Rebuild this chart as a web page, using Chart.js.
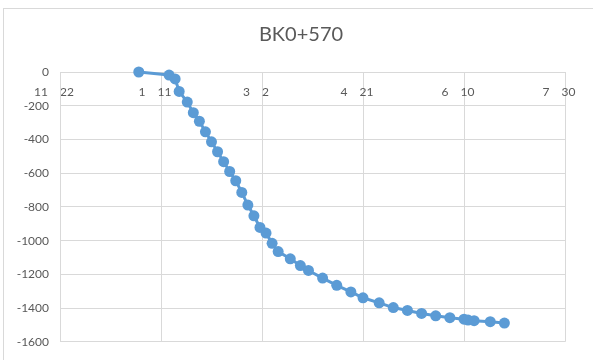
<!DOCTYPE html>
<html>
<head>
<meta charset="utf-8">
<script src="https://cdn.jsdelivr.net/npm/chart.js@4.4.0/dist/chart.umd.min.js"></script>
<style>
  body { margin: 0; background: #fff; overflow: hidden; }
  #frame { position: absolute; left: 3px; top: 8px; width: 640px; height: 400px; border: 1px solid #d9d9d9; }
  #chart { position: absolute; left: 0; top: 0; }
</style>
</head>
<body>
<div id="frame"></div>
<canvas id="chart" width="593" height="360"></canvas>
<script>
const chartTitle = "BK0+570";
const axisStart = "2018-11-22";
const axisDays = 250, axisStep = 50;

const dates = [
  "2018-12-31", "2019-01-15", "2019-01-18", "2019-01-20", "2019-01-24", "2019-01-27",
  "2019-01-30", "2019-02-02", "2019-02-05", "2019-02-08", "2019-02-11", "2019-02-14",
  "2019-02-17", "2019-02-20", "2019-02-23", "2019-02-26", "2019-03-01", "2019-03-04",
  "2019-03-07", "2019-03-10", "2019-03-16", "2019-03-21", "2019-03-25", "2019-04-01",
  "2019-04-08", "2019-04-15", "2019-04-21", "2019-04-29", "2019-05-06", "2019-05-13",
  "2019-05-20", "2019-05-27", "2019-06-03", "2019-06-10", "2019-06-12", "2019-06-15",
  "2019-06-23", "2019-06-30"
];
const settlement = [
  0, -18, -41, -115, -178, -241,
  -292, -355, -414, -473, -532, -590,
  -645, -714, -789, -853, -922, -955,
  -1016, -1065, -1108, -1148, -1177, -1222,
  -1265, -1304, -1339, -1369, -1397, -1414,
  -1432, -1446, -1457, -1466, -1471, -1475,
  -1481, -1489
];
const yTicks = { min: -1600, max: 0, step: 200 };

const DAY = 864e5;
const t0 = Date.parse(axisStart);
const points = dates.map((d, i) => ({ x: (Date.parse(d) - t0) / DAY, y: settlement[i] }));

function dateLabel(offset) {
  const d = new Date(t0 + offset * DAY);
  // month / day with the blank gaps where the unit glyphs did not render
  return (d.getUTCMonth() + 1) + "\u3000" + d.getUTCDate() + "\u3000";
}

const font = "Lato, 'Open Sans', sans-serif";
const grey = "#d9d9d9";
const blue = "#5b9bd5";

// title is centred on the outer frame, not on the canvas, so draw it here
const titlePlugin = {
  id: "frameTitle",
  afterDraw(chart) {
    const ctx = chart.ctx;
    ctx.save();
    ctx.font = "20px " + font;
    ctx.fillStyle = "#595959";
    ctx.textAlign = "center";
    ctx.textBaseline = "middle";
    ctx.fillText(chartTitle, 301, 35);
    ctx.restore();
  }
};

new Chart(document.getElementById("chart"), {
  type: "line",
  data: {
    datasets: [{
      data: points,
      borderColor: blue,
      backgroundColor: blue,
      borderWidth: 3,
      pointRadius: 5.5,
      pointBorderWidth: 0,
      tension: 0,
      fill: false,
      clip: false
    }]
  },
  plugins: [titlePlugin],
  options: {
    responsive: false,
    animation: false,
    layout: { padding: { left: 0, right: 28, top: 72, bottom: 16 } },
    plugins: {
      legend: { display: false },
      tooltip: { enabled: false },
      title: { display: false }
    },
    scales: {
      x: {
        type: "linear",
        position: { y: 0 },
        min: 0,
        max: axisDays,
        grid: { color: grey, drawTicks: false },
        border: { color: grey },
        ticks: {
          stepSize: axisStep,
          autoSkip: false,
          maxRotation: 0,
          padding: 13,
          color: "#595959",
          font: { family: font, size: 12 },
          callback: v => dateLabel(v)
        },
        afterFit: s => { s.paddingLeft = 0; s.paddingRight = 0; }
      },
      y: {
        min: yTicks.min,
        max: yTicks.max,
        grid: { color: grey, drawTicks: false },
        border: { color: grey },
        ticks: {
          stepSize: yTicks.step,
          padding: 11,
          color: "#595959",
          font: { family: font, size: 12 },
          callback: v => String(v)
        },
        afterFit: s => { s.width = 60; }
      }
    }
  }
});
</script>
</body>
</html>
